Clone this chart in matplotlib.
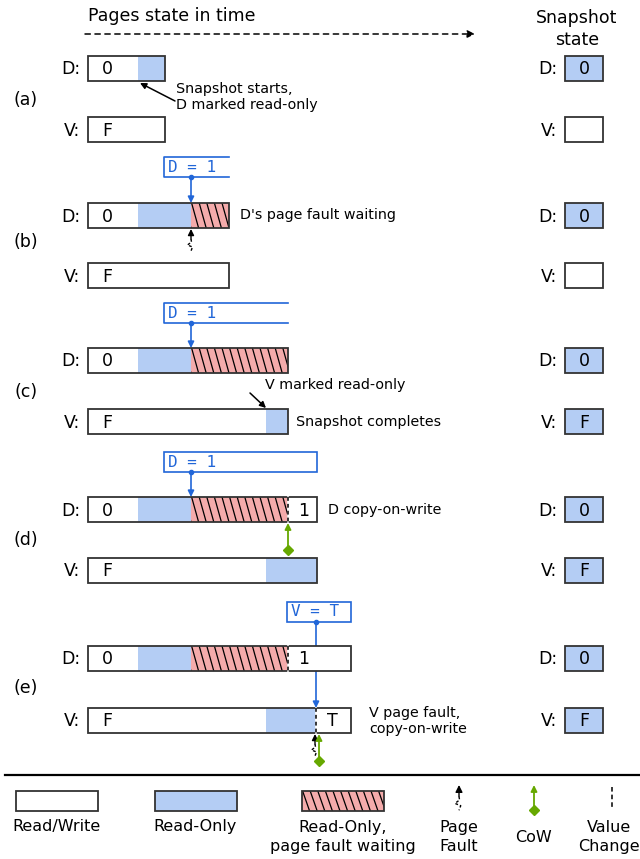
import matplotlib
matplotlib.use("Agg")
import matplotlib.pyplot as plt
from matplotlib.patches import Rectangle
import numpy as np

# ---------------- data ----------------
row_ids = ['(a)', '(b)', '(c)', '(d)', '(e)']
# page timelines: (state, start, end) in time units
D_segments = [
    [('rw', 0, 50), ('ro', 50, 77)],
    [('rw', 0, 50), ('ro', 50, 103), ('pf', 103, 141)],
    [('rw', 0, 50), ('ro', 50, 103), ('pf', 103, 200)],
    [('rw', 0, 50), ('ro', 50, 103), ('pf', 103, 200), ('rw', 200, 229)],
    [('rw', 0, 50), ('ro', 50, 103), ('pf', 103, 200), ('rw', 200, 263)],
]
V_segments = [
    [('rw', 0, 77)],
    [('rw', 0, 141)],
    [('rw', 0, 178), ('ro', 178, 200)],
    [('rw', 0, 178), ('ro', 178, 229)],
    [('rw', 0, 178), ('ro', 178, 228), ('rw', 228, 263)],
]
D_values = [[('0', 0)], [('0', 0)], [('0', 0)], [('0', 0), ('1', 200)], [('0', 0), ('1', 200)]]
V_values = [[('F', 0)], [('F', 0)], [('F', 0)], [('F', 0)], [('F', 0), ('T', 228)]]
snap_D = ['0', '0', '0', '0', '0']
snap_V = ['', '', 'F', 'F', 'F']
# writes: (text, box start, box end, write time, target page, closed box)
writes = [None,
          ('D = 1', 76, 141, 103, 'D', False),
          ('D = 1', 76, 200, 103, 'D', False),
          ('D = 1', 76, 229, 103, 'D', True),
          ('V = T', 199, 263, 228, 'V', True)]
page_faults = [None, ('D', 103), None, None, ('V', 228)]
cows = [None, None, None, ('D', 200), ('V', 228)]
notes = [
    [("Snapshot starts,\nD marked read-only", 88, 97)],
    [("D's page fault waiting", 152, 215)],
    [("V marked read-only", 177, 385), ("Snapshot completes", 208, 422)],
    [("D copy-on-write", 240, 510)],
    [("V page fault,\ncopy-on-write", 281, 721)],
]
legend_labels = ['Read/Write', 'Read-Only', 'Read-Only,\npage fault waiting', 'Page\nFault', 'CoW', 'Value\nChange']

# ---------------- style / layout ----------------
BLUE_FILL = '#b4cdf4'
RED_FILL = '#f4abab'
EDGE = '#333333'
BLUE = '#2166d8'
GREEN = '#66a800'
FILLS = {'rw': 'white', 'ro': BLUE_FILL, 'pf': RED_FILL}
X0 = 88
BAR_H = 25
D_Y = [68.5, 215.5, 360.5, 509.5, 658.5]
V_Y = [129.5, 275.5, 421.5, 570.5, 720.5]
WRITE_Y = [None, 167, 313, 462, 611.5]
LABEL_Y = [100, 242, 392, 540, 688]
SNAP_X = 565
SNAP_W = 38

fig = plt.figure(figsize=(6.4, 8.59), dpi=100)
ax = fig.add_axes([0, 0, 1, 1])
ax.set_xlim(-X0, 640 - X0)
ax.set_ylim(859, 0)
ax.axis('off')

FS_MAIN = 12.5
FS_NOTE = 10.3
FS_LEG = 11.5
SNAP_T = SNAP_X - X0


def hatch(x0, x1, yc, h, zorder=3):
    clip = Rectangle((x0, yc - h / 2), x1 - x0, h, transform=ax.transData, facecolor='none', edgecolor='none')
    ax.add_patch(clip)
    sp = 7.6
    dx = 7.0
    k = x0 - dx
    while k < x1 + 1:
        ln, = ax.plot([k, k + dx], [yc - h / 2, yc + h / 2], color='black', lw=0.9, zorder=zorder)
        ln.set_clip_path(clip)
        k += sp


def draw_page(segs, vals, yc):
    for st, a, b in segs:
        ax.add_patch(Rectangle((a, yc - BAR_H / 2), b - a, BAR_H, facecolor=FILLS[st], edgecolor='none', zorder=2))
        if st == 'pf':
            hatch(a, b, yc, BAR_H)
    end = segs[-1][2]
    ax.add_patch(Rectangle((0, yc - BAR_H / 2), end, BAR_H, facecolor='none', edgecolor=EDGE, lw=1.3, zorder=4))
    for i, (v, t) in enumerate(vals):
        off = 19 if i == 0 else 16
        ax.text(t + off, yc + 1, v, ha='center', va='center', fontsize=FS_MAIN, zorder=5)
        if i > 0:
            ax.plot([t, t], [yc - BAR_H / 2, yc + BAR_H / 2], color='white', lw=1.2, zorder=4.5)
            ax.plot([t, t], [yc - BAR_H / 2, yc + BAR_H / 2], color='black', lw=1.1, ls=(0, (2.5, 2)), zorder=4.6)


def pf_symbol(x, ytop, scale=1.0, zorder=6):
    s = scale
    ax.annotate('', xy=(x, ytop), xytext=(x, ytop + 10 * s),
                arrowprops=dict(arrowstyle='-|>', color='black', lw=1.0, mutation_scale=9 * s, shrinkA=0, shrinkB=0),
                zorder=zorder)
    ax.plot([x, x + 0.5 * s, x - 3.5 * s, x + 1.5 * s, x],
            [ytop + 10 * s, ytop + 13 * s, ytop + 16 * s, ytop + 18 * s, ytop + 22 * s],
            color='black', lw=1.0, ls=(0, (2, 1.5)), zorder=zorder)


def cow_symbol(x, ytop, ybot, zorder=6):
    ax.annotate('', xy=(x, ytop), xytext=(x, ybot),
                arrowprops=dict(arrowstyle='-|>', color=GREEN, lw=1.3, mutation_scale=9, shrinkA=0, shrinkB=0),
                zorder=zorder)
    ax.plot([x], [ybot], marker='D', color=GREEN, ms=5, zorder=zorder)


# header
ax.text(0, 16, 'Pages state in time', fontsize=FS_MAIN, ha='left', va='center')
ax.annotate('', xy=(387, 34), xytext=(-3, 34),
            arrowprops=dict(arrowstyle='-|>', color='black', lw=1.1, ls=(0, (3.5, 3)), mutation_scale=11,
                            shrinkA=0, shrinkB=0))
ax.text(SNAP_T + 12, 29, 'Snapshot\nstate', fontsize=FS_MAIN, ha='center', va='center', linespacing=1.3)

for i in range(5):
    dy, vy = D_Y[i], V_Y[i]
    ax.text(-8, dy + 1, 'D:', fontsize=FS_MAIN, ha='right', va='center')
    ax.text(-8, vy + 1, 'V:', fontsize=FS_MAIN, ha='right', va='center')
    ax.text(-62, LABEL_Y[i], row_ids[i], fontsize=FS_MAIN, ha='center', va='center')
    draw_page(D_segments[i], D_values[i], dy)
    draw_page(V_segments[i], V_values[i], vy)
    # snapshot state
    ax.text(SNAP_T - 8, dy + 1, 'D:', fontsize=FS_MAIN, ha='right', va='center')
    ax.text(SNAP_T - 8, vy + 1, 'V:', fontsize=FS_MAIN, ha='right', va='center')
    for y, v in [(dy, snap_D[i]), (vy, snap_V[i])]:
        ax.add_patch(Rectangle((SNAP_T, y - BAR_H / 2), SNAP_W, BAR_H,
                               facecolor=BLUE_FILL if v else 'white', edgecolor=EDGE, lw=1.3, zorder=3))
        if v:
            ax.text(SNAP_T + SNAP_W / 2, y + 1, v, fontsize=FS_MAIN, ha='center', va='center', zorder=5)
    # writes
    w = writes[i]
    if w:
        txt, b0, b1, t, tgt, closed = w
        wy = WRITE_Y[i]
        hh = 10
        if closed:
            ax.add_patch(Rectangle((b0, wy - hh), b1 - b0, 2 * hh, facecolor='white', edgecolor=BLUE, lw=1.2, zorder=3))
        else:
            ax.plot([b1, b0, b0, b1], [wy - hh, wy - hh, wy + hh, wy + hh], color=BLUE, lw=1.2, zorder=3)
        ax.text(b0 + 4, wy + 0.5, txt, family='DejaVu Sans Mono', fontsize=11.5, color=BLUE,
                ha='left', va='center', zorder=4)
        ty = (dy if tgt == 'D' else vy) - BAR_H / 2
        ax.annotate('', xy=(t, ty), xytext=(t, wy + hh),
                    arrowprops=dict(arrowstyle='-|>', color=BLUE, lw=1.2, mutation_scale=9, shrinkA=0, shrinkB=0),
                    zorder=1)
        ax.plot([t], [wy + hh], marker='o', color=BLUE, ms=3, zorder=4)
    pf = page_faults[i]
    if pf:
        y = (dy if pf[0] == 'D' else vy) + BAR_H / 2
        pf_symbol(pf[1] - (1 if pf[0] == 'V' else 0), y + 1)
    cw = cows[i]
    if cw:
        y = (dy if cw[0] == 'D' else vy) + BAR_H / 2
        x = cw[1] + (3 if cw[0] == 'V' else 0)
        cow_symbol(x, y + 1, y + 28)
    for txt, nx, ny in notes[i]:
        ax.text(nx, ny, txt, fontsize=FS_NOTE, ha='left', va='center', linespacing=1.25, zorder=5)

# annotation arrows
ax.annotate('', xy=(52, 83), xytext=(87, 101),
            arrowprops=dict(arrowstyle='-|>', color='black', lw=1.1, mutation_scale=9, shrinkA=0, shrinkB=0))
ax.annotate('', xy=(178, 408), xytext=(162, 393),
            arrowprops=dict(arrowstyle='-|>', color='black', lw=1.1, mutation_scale=9, shrinkA=0, shrinkB=0))

# separator
ax.plot([5 - X0, 640 - X0], [775, 775], color='black', lw=1.6)

# legend
LY = 801
LH = 20
leg_x = [16, 155, 302]
leg_states = ['rw', 'ro', 'pf']
for lx, st in zip(leg_x, leg_states):
    a = lx - X0
    ax.add_patch(Rectangle((a, LY - LH / 2), 82, LH, facecolor=FILLS[st], edgecolor='none', zorder=2))
    if st == 'pf':
        hatch(a, a + 82, LY, LH)
    ax.add_patch(Rectangle((a, LY - LH / 2), 82, LH, facecolor='none', edgecolor=EDGE, lw=1.3, zorder=4))
ax.text(57 - X0, 827, legend_labels[0], fontsize=FS_LEG, ha='center', va='center')
ax.text(195 - X0, 827, legend_labels[1], fontsize=FS_LEG, ha='center', va='center')
ax.text(343 - X0, 837, legend_labels[2], fontsize=FS_LEG, ha='center', va='center', linespacing=1.3)
pf_symbol(459 - X0, 785, scale=1.15)
ax.text(459 - X0, 837, legend_labels[3], fontsize=FS_LEG, ha='center', va='center', linespacing=1.3)
cow_symbol(534 - X0, 785, 810)
ax.text(534 - X0, 837, legend_labels[4], fontsize=FS_LEG, ha='center', va='center')
ax.plot([612 - X0, 612 - X0], [787, 808], color='black', lw=1.1, ls=(0, (3, 2)))
ax.text(609 - X0, 837, legend_labels[5], fontsize=FS_LEG, ha='center', va='center', linespacing=1.3)

fig.savefig('out.png', dpi=100)
